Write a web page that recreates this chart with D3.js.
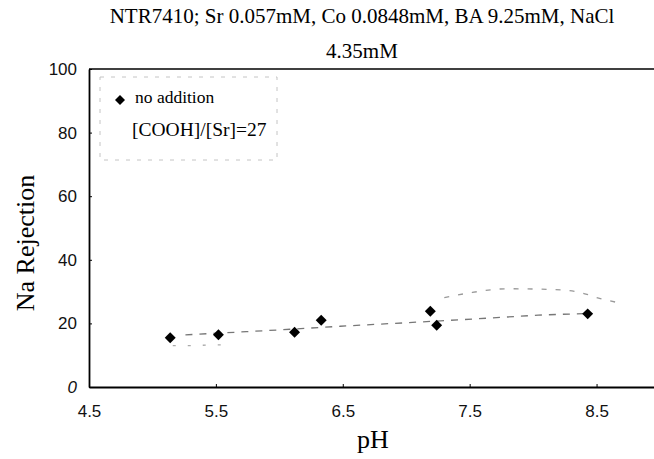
<!DOCTYPE html>
<html>
<head>
<meta charset="utf-8">
<script src="https://cdn.jsdelivr.net/npm/d3@7"></script>
<style>
  body { margin: 0; background: #fff; }
  svg { display: block; }
</style>
</head>
<body>
<div id="chart"></div>
<script>
// values
const phValues = [5.14, 5.52, 6.12, 6.33, 7.19, 7.24, 8.43];
const naRejection = [15.5, 16.4, 17.2, 21.0, 23.8, 19.4, 23.0];

// faint trend line and band drawn in the original
const trendPh = [5.26, 5.74, 6.02, 6.48, 7.0, 7.45, 8.04, 8.4];
const trendRej = [16.4, 17.4, 18.0, 19.1, 20.2, 21.2, 22.6, 23.1];
const upperPh = [7.3, 7.5, 7.8, 8.24, 8.4, 8.53, 8.65];
const upperRej = [28.1, 29.6, 30.9, 30.5, 29.4, 27.8, 26.7];
const lowerPh = [5.16, 5.28, 5.56, 5.61];
const lowerRej = [13.0, 13.0, 13.3, 13.6];

const xTicks = [4.5, 5.5, 6.5, 7.5, 8.5];
const yTicks = [0, 20, 40, 60, 80, 100];

const titleLines = ["NTR7410; Sr 0.057mM, Co 0.0848mM, BA 9.25mM, NaCl", "4.35mM"];
const legendLines = ["no addition", "[COOH]/[Sr]=27"];

function draw() {
  const w = 654, h = 459;
  const serif = "'Liberation Serif', 'Times New Roman', serif";
  const sans = "'Liberation Sans', Arial, sans-serif";

  const svg = d3.select("#chart")
    .append("svg")
      .attr("width", w)
      .attr("height", h);

  const x = d3.scaleLinear().domain([4.5, 9.0]).range([89, 660]);
  const y = d3.scaleLinear().domain([0, 100]).range([387, 69]);

  // title
  svg.selectAll(".title")
    .data(titleLines)
    .join("text")
      .attr("class", "title")
      .attr("x", 362)
      .attr("y", (d, i) => 23 + i * 35)
      .attr("text-anchor", "middle")
      .style("font-family", serif)
      .style("font-size", "21px")
      .text(d => d);

  // band and trend (faint, broken lines of the scan)
  const line = d3.line().x(d => x(d[0])).y(d => y(d[1]));
  const smooth = d3.line().x(d => x(d[0])).y(d => y(d[1])).curve(d3.curveMonotoneX);

  svg.append("path")
    .datum(upperPh.map((p, i) => [p, upperRej[i]]))
    .attr("d", smooth)
    .attr("fill", "none")
    .attr("stroke", "#999")
    .attr("stroke-width", 1.3)
    .attr("stroke-dasharray", "5,9");

  svg.append("path")
    .datum(lowerPh.map((p, i) => [p, lowerRej[i]]))
    .attr("d", line)
    .attr("fill", "none")
    .attr("stroke", "#aaa")
    .attr("stroke-width", 1.3)
    .attr("stroke-dasharray", "3,12");

  svg.append("path")
    .datum(trendPh.map((p, i) => [p, trendRej[i]]))
    .attr("d", line)
    .attr("fill", "none")
    .attr("stroke", "#777")
    .attr("stroke-width", 1.3)
    .attr("stroke-dasharray", "7,7");

  // axes
  const xAxis = svg.append("g")
    .attr("transform", `translate(0,${y(0)})`)
    .call(d3.axisBottom(x).tickValues(xTicks).tickFormat(d3.format(".1f"))
      .tickSizeInner(-3).tickSizeOuter(0).tickPadding(18));
  xAxis.select(".domain").attr("stroke-width", 1.8);

  const yAxis = svg.append("g")
    .attr("transform", `translate(${x(4.5)},0)`)
    .call(d3.axisLeft(y).tickValues(yTicks)
      .tickSizeInner(-3).tickSizeOuter(0).tickPadding(12));
  yAxis.select(".domain").attr("stroke-width", 1.8);

  svg.selectAll(".tick text")
    .style("font-family", sans)
    .style("font-size", "17px")
    .attr("fill", "#111");
  yAxis.selectAll(".tick text").filter(d => d === 0).style("font-style", "italic");

  // top frame line
  svg.append("line")
    .attr("x1", x(4.5)).attr("x2", w)
    .attr("y1", y(100)).attr("y2", y(100))
    .attr("stroke", "#000")
    .attr("stroke-width", 1.6);

  // axis titles
  svg.append("text")
    .attr("x", 373)
    .attr("y", 448)
    .attr("text-anchor", "middle")
    .style("font-family", serif)
    .style("font-size", "26px")
    .text("pH");

  svg.append("text")
    .attr("transform", "translate(34,243) rotate(-90)")
    .attr("text-anchor", "middle")
    .style("font-family", serif)
    .style("font-size", "26px")
    .text("Na Rejection");

  // points
  svg.selectAll(".pt")
    .data(phValues.map((p, i) => [p, naRejection[i]]))
    .join("path")
      .attr("class", "pt")
      .attr("d", d3.symbol(d3.symbolSquare, 60))
      .attr("transform", d => `translate(${x(d[0])},${y(d[1])}) rotate(45)`)
      .attr("fill", "#000");

  // legend
  svg.append("rect")
    .attr("x", 100).attr("y", 77)
    .attr("width", 177).attr("height", 83)
    .attr("fill", "none")
    .attr("stroke", "#c4c4c4")
    .attr("stroke-width", 1)
    .attr("stroke-dasharray", "4,7");

  svg.append("path")
    .attr("d", d3.symbol(d3.symbolSquare, 50))
    .attr("transform", "translate(120,100) rotate(45)")
    .attr("fill", "#000");

  svg.selectAll(".leg")
    .data(legendLines)
    .join("text")
      .attr("class", "leg")
      .attr("x", (d, i) => i === 0 ? 135 : 132)
      .attr("y", (d, i) => 103 + i * 33)
      .style("font-family", serif)
      .style("font-size", (d, i) => i === 0 ? "17.5px" : "19.5px")
      .text(d => d);
}

draw();
</script>
</body>
</html>
